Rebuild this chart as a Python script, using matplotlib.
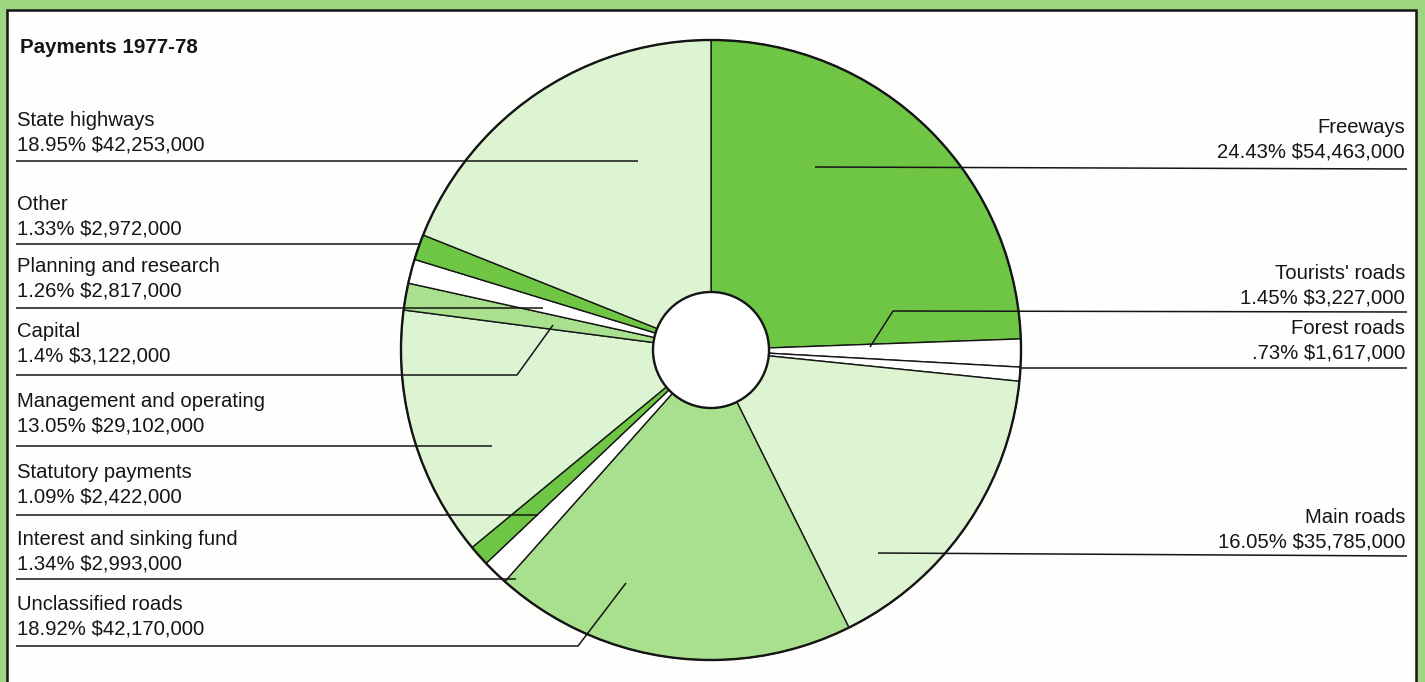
import matplotlib
matplotlib.use("Agg")
import matplotlib.pyplot as plt
from matplotlib.patches import Rectangle, Circle

# ---------------- data ----------------
categories = ["Freeways", "Tourists' roads", "Forest roads", "Main roads",
              "Unclassified roads", "Interest and sinking fund",
              "Statutory payments", "Management and operating", "Capital",
              "Planning and research", "Other", "State highways"]
percents = [24.43, 1.45, 0.73, 16.05, 18.92, 1.34, 1.09, 13.05, 1.4, 1.26,
            1.33, 18.95]
pct_labels = ["24.43%", "1.45%", ".73%", "16.05%", "18.92%", "1.34%",
              "1.09%", "13.05%", "1.4%", "1.26%", "1.33%", "18.95%"]
amounts = ["$54,463,000", "$3,227,000", "$1,617,000", "$35,785,000",
           "$42,170,000", "$2,993,000", "$2,422,000", "$29,102,000",
           "$3,122,000", "$2,817,000", "$2,972,000", "$42,253,000"]
shades = ["dark", "white", "white", "light", "medium", "white", "dark",
          "light", "medium", "white", "dark", "light"]
title = "Payments 1977-78"

# ---------------- style ----------------
W, H = 1425, 682
palette = {"dark": "#6EC644", "medium": "#A9E08D", "light": "#DDF4D3",
           "white": "#FFFFFF"}
bg_green = "#9CD780"
ink = "#151515"
FONT = "Liberation Sans"
FS = 14.6

fig = plt.figure(figsize=(W / 100, H / 100), dpi=100)
fig.patch.set_facecolor(bg_green)
ax = fig.add_axes([0, 0, 1, 1])
ax.set_facecolor(bg_green)


def Y(y):  # pixel y (top-down) -> data y
    return H - y


# panel
ax.add_patch(Rectangle((7, Y(H + 20)), 1409, H + 10, facecolor="#FEFEFD",
                       edgecolor=ink, lw=1.8, zorder=0))

cx, cy, R = 711, 350, 310
hole = 58
wedges, _ = ax.pie(percents, colors=[palette[s] for s in shades],
                   startangle=90, counterclock=False, center=(cx, Y(cy)),
                   radius=R, frame=True,
                   wedgeprops=dict(width=R - hole, edgecolor=ink, linewidth=1.0))
ax.add_patch(Circle((cx, Y(cy)), R, facecolor="none", edgecolor=ink, lw=1.7,
                    zorder=3))
ax.add_patch(Circle((cx, Y(cy)), hole, facecolor="white", edgecolor=ink,
                    lw=1.7, zorder=3))

ax.set_xlim(0, W)
ax.set_ylim(0, H)
ax.set_aspect("auto")
ax.axis("off")

ax.text(20, Y(53), title, fontsize=14.8, fontweight="bold", family=FONT,
        color=ink, va="baseline", ha="left")

# label layout: index -> (side, first baseline y, underline y, leader points)
layout = {
    11: ("L", 126, 161, [(638, 161)]),
    10: ("L", 210, 244, [(420, 244)]),
    9: ("L", 272, 308, [(543, 308)]),
    8: ("L", 337, 375, [(517, 375), (553, 325)]),
    7: ("L", 407, 446, [(492, 446)]),
    6: ("L", 478, 515, [(538, 515)]),
    5: ("L", 545, 579, [(516, 579)]),
    4: ("L", 610, 646, [(578, 646), (626, 583)]),
    0: ("R", 133, 169, [(815, 167)]),
    1: ("R", 279, 312, [(893, 311), (870, 347)]),
    2: ("R", 334, 368, [(1020, 368)]),
    3: ("R", 523, 556, [(878, 553)]),
}

for i, (side, yb, yu, pts) in layout.items():
    l1 = categories[i]
    l2 = f"{pct_labels[i]} {amounts[i]}"
    if side == "L":
        x0, ha = 17, "left"
        xs = [16] + [p[0] for p in pts]
        ys = [yu] + [p[1] for p in pts]
    else:
        x0, ha = 1405, "right"
        xs = [1407] + [p[0] for p in pts]
        ys = [yu] + [p[1] for p in pts]
    ax.text(x0, Y(yb), l1, fontsize=FS, family=FONT, color=ink,
            ha=ha, va="baseline")
    ax.text(x0, Y(yb + 24.5), l2, fontsize=FS, family=FONT, color=ink,
            ha=ha, va="baseline")
    ax.plot(xs, [Y(v) for v in ys], color=ink, lw=1.1, zorder=4,
            solid_capstyle="butt")

fig.savefig("out.png", dpi=100, facecolor=bg_green)
